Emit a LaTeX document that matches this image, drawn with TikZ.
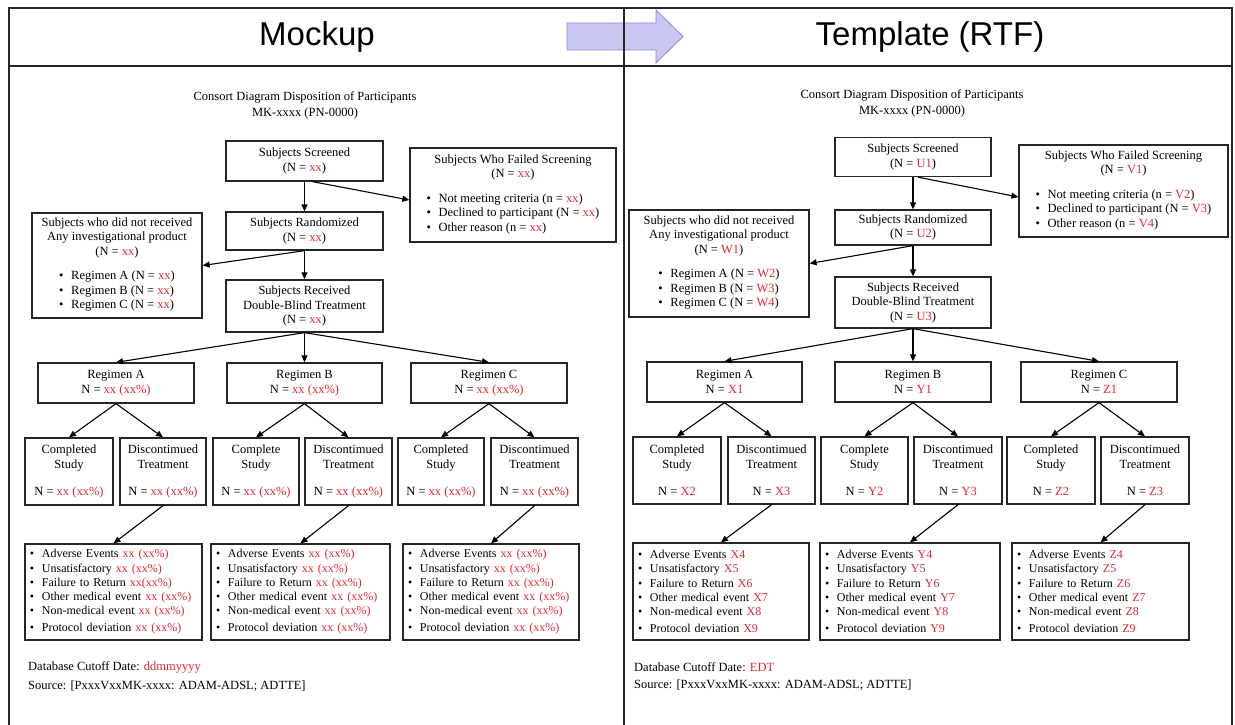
\documentclass[tikz,border=0pt]{standalone}
\usepackage{fontspec}
\setmainfont{Liberation Serif}
\newfontfamily\hdrfont{Liberation Sans}
\usetikzlibrary{arrows.meta}
\definecolor{vred}{HTML}{E3262E}
\definecolor{arrfill}{HTML}{C8C8F2}
\definecolor{arrline}{HTML}{8888D4}
\newcommand\rv[1]{\textcolor{vred}{#1}}
\newcommand\bl{\makebox[12pt][l]{\textbullet}}
\newcommand\dfont{\fontsize{12.5}{14.5}\selectfont}
\tikzset{
 cbox/.style={draw=black!85, line width=1.3pt, align=center, inner sep=2pt, font=\dfont},
 lbox/.style={draw=black!85, line width=1.3pt, align=left, inner xsep=5pt, inner ysep=2pt, font=\fontsize{12}{14.2}\selectfont},
 conn/.style={line width=1.1pt, -{Triangle[length=7pt,width=6pt]}},
 txt/.style={font=\dfont, inner sep=0pt},
 ttl/.style={align=center, inner sep=0pt, font=\fontsize{12.5}{16}\selectfont},
 hdr/.style={font=\hdrfont\fontsize{33}{38}\selectfont},
 frm/.style={line width=1.2pt, draw=black!85}
}
\begin{document}
\begin{tikzpicture}[x=1pt,y=-1pt]
\useasboundingbox (0,0) rectangle (1235,725);
% header arrow
\filldraw[fill=arrfill, draw=arrline, line width=0.8pt] (567,23) -- (656,23) -- (656,10) -- (683,36.5) -- (656,63) -- (656,50) -- (567,50) -- cycle;
\draw[frm] (9,8) rectangle (1232,727);
\draw[frm] (9,66) -- (1232,66);
\draw[frm] (624,8) -- (624,727);
\node[hdr] (hm) at (317,37) {Mockup};
\node[hdr] (ht) at (930,37) {Template (RTF)};

% ================= LEFT PANEL =================
\node[ttl] (tA) at (305,105) {Consort Diagram Disposition of Participants\\MK-xxxx (PN-0000)};
\node[cbox, minimum width=157, minimum height=40] (sA) at (304.5,161) {Subjects Screened\\(N = \rv{xx})};
\node[cbox, minimum width=206, minimum height=94] (fA) at (513,195) {Subjects Who Failed Screening\\(N = \rv{xx})\\[10pt]\begin{tabular}[t]{@{}l@{}}\bl Not meeting criteria (n = \rv{xx})\\\bl Declined to participant (N = \rv{xx})\\\bl Other reason (n = \rv{xx})\end{tabular}};
\node[cbox, minimum width=157, minimum height=38] (rA) at (304.5,231) {Subjects Randomized\\(N = \rv{xx})};
\node[cbox, minimum width=170, minimum height=105] (nA) at (117,265.5) {Subjects who did not received\\Any investigational product\\(N = \rv{xx})\\[10pt]\begin{tabular}[t]{@{}l@{}}\bl Regimen A (N = \rv{xx})\\\bl Regimen B (N = \rv{xx})\\\bl Regimen C (N = \rv{xx})\end{tabular}};
\node[cbox, minimum width=157, minimum height=52] (dA) at (304.5,306) {Subjects Received\\Double-Blind Treatment\\(N = \rv{xx})};

\node[cbox, minimum width=156, minimum height=40] (gAa) at (116,383) {Regimen A\\N = \rv{xx (xx\%)}};
\node[cbox, minimum width=155, minimum height=40] (gAb) at (304.5,383) {Regimen B\\N = \rv{xx (xx\%)}};
\node[cbox, minimum width=156, minimum height=40] (gAc) at (489,383) {Regimen C\\N = \rv{xx (xx\%)}};

\node[cbox, minimum width=88, minimum height=67] (cAa) at (69,471.5) {Completed\\Study\\[13pt]N = \rv{xx (xx\%)}};
\node[cbox, minimum width=86, minimum height=67] (xAa) at (163,471.5) {Discontimued\\Treatment\\[13pt]N = \rv{xx (xx\%)}};
\node[cbox, minimum width=86, minimum height=67] (cAb) at (256,471.5) {Complete\\Study\\[13pt]N = \rv{xx (xx\%)}};
\node[cbox, minimum width=87, minimum height=67] (xAb) at (348.5,471.5) {Discontimued\\Treatment\\[13pt]N = \rv{xx (xx\%)}};
\node[cbox, minimum width=86, minimum height=67] (cAc) at (441,471.5) {Completed\\Study\\[13pt]N = \rv{xx (xx\%)}};
\node[cbox, minimum width=87, minimum height=67] (xAc) at (534.5,471.5) {Discontimued\\Treatment\\[13pt]N = \rv{xx (xx\%)}};

\node[lbox, text width=167, minimum height=96] (bAa) at (113.5,592) {\bl Adverse Events \rv{xx (xx\%)}\\\bl Unsatisfactory \rv{xx (xx\%)}\\\bl Failure to Return \rv{xx(xx\%)}\\\bl Other medical event \rv{xx (xx\%)}\\\bl Non-medical event \rv{xx (xx\%)}\\[3pt]\bl Protocol deviation \rv{xx (xx\%)}};
\node[lbox, text width=169, minimum height=96] (bAb) at (300.5,592) {\bl Adverse Events \rv{xx (xx\%)}\\\bl Unsatisfactory \rv{xx (xx\%)}\\\bl Failure to Return \rv{xx (xx\%)}\\\bl Other medical event \rv{xx (xx\%)}\\\bl Non-medical event \rv{xx (xx\%)}\\[3pt]\bl Protocol deviation \rv{xx (xx\%)}};
\node[lbox, text width=166, minimum height=96] (bAc) at (491,592) {\bl Adverse Events \rv{xx (xx\%)}\\\bl Unsatisfactory \rv{xx (xx\%)}\\\bl Failure to Return \rv{xx (xx\%)}\\\bl Other medical event \rv{xx (xx\%)}\\\bl Non-medical event \rv{xx (xx\%)}\\[3pt]\bl Protocol deviation \rv{xx (xx\%)}};

\node[txt, anchor=west] (dbA) at (28,667) {Database Cutoff Date: \rv{ddmmyyyy}};
\node[txt, anchor=west] (srcA) at (28,686) {Source: [PxxxVxxMK-xxxx: ADAM-ADSL; ADTTE]};

\draw[conn] (sA.south) -- (rA.north);
\draw[conn] ([xshift=8pt]sA.south) -- ([yshift=-5pt]fA.west);
\draw[conn] (rA.south) -- (dA.north);
\draw[conn] (rA.south) -- (nA.east);
\draw[conn] (dA.south) -- (gAa.north);
\draw[conn] (dA.south) -- (gAb.north);
\draw[conn] (dA.south) -- (gAc.north);
\draw[conn] (gAa.south) -- (cAa.north);
\draw[conn] (gAa.south) -- (xAa.north);
\draw[conn] (gAb.south) -- (cAb.north);
\draw[conn] (gAb.south) -- (xAb.north);
\draw[conn] (gAc.south) -- (cAc.north);
\draw[conn] (gAc.south) -- (xAc.north);
\draw[conn] (xAa.south) -- (bAa.north);
\draw[conn] (xAb.south) -- (bAb.north);
\draw[conn] (xAc.south) -- (bAc.north);

% ================= RIGHT PANEL =================
\node[ttl] (tR) at (912,103.5) {Consort Diagram Disposition of Participants\\MK-xxxx (PN-0000)};
\node[cbox, minimum width=156, minimum height=39] (sR) at (913,157) {Subjects Screened\\(N = \rv{U1})};
\node[cbox, minimum width=209, minimum height=92] (fR) at (1123.5,191) {Subjects Who Failed Screening\\(N = \rv{V1})\\[10pt]\begin{tabular}[t]{@{}l@{}}\bl Not meeting criteria (n = \rv{V2})\\\bl Declined to participant (N = \rv{V3})\\\bl Other reason (n = \rv{V4})\end{tabular}};
\node[cbox, minimum width=156, minimum height=35] (rR) at (913,227.5) {Subjects Randomized\\(N = \rv{U2})};
\node[cbox, minimum width=180, minimum height=107] (nR) at (719,263.5) {Subjects who did not received\\Any investigational product\\(N = \rv{W1})\\[10pt]\begin{tabular}[t]{@{}l@{}}\bl Regimen A (N = \rv{W2})\\\bl Regimen B (N = \rv{W3})\\\bl Regimen C (N = \rv{W4})\end{tabular}};
\node[cbox, minimum width=156, minimum height=51] (dR) at (913,302.5) {Subjects Received\\Double-Blind Treatment\\(N = \rv{U3})};

\node[cbox, minimum width=155, minimum height=40] (gRa) at (724.5,382) {Regimen A\\N = \rv{X1}};
\node[cbox, minimum width=156, minimum height=40] (gRb) at (913,382) {Regimen B\\N = \rv{Y1}};
\node[cbox, minimum width=156, minimum height=40] (gRc) at (1099,382) {Regimen C\\N = \rv{Z1}};

\node[cbox, minimum width=88, minimum height=67] (cRa) at (677,470.5) {Completed\\Study\\[13pt]N = \rv{X2}};
\node[cbox, minimum width=87, minimum height=67] (xRa) at (771.5,470.5) {Discontimued\\Treatment\\[13pt]N = \rv{X3}};
\node[cbox, minimum width=87, minimum height=67] (cRb) at (864.5,470.5) {Complete\\Study\\[13pt]N = \rv{Y2}};
\node[cbox, minimum width=88, minimum height=67] (xRb) at (958,470.5) {Discontimued\\Treatment\\[13pt]N = \rv{Y3}};
\node[cbox, minimum width=88, minimum height=67] (cRc) at (1051,470.5) {Completed\\Study\\[13pt]N = \rv{Z2}};
\node[cbox, minimum width=88, minimum height=67] (xRc) at (1145,470.5) {Discontimued\\Treatment\\[13pt]N = \rv{Z3}};

\node[lbox, text width=166, minimum height=97] (bRa) at (721,591.5) {\bl Adverse Events \rv{X4}\\\bl Unsatisfactory \rv{X5}\\\bl Failure to Return \rv{X6}\\\bl Other medical event \rv{X7}\\\bl Non-medical event \rv{X8}\\[3pt]\bl Protocol deviation \rv{X9}};
\node[lbox, text width=170, minimum height=97] (bRb) at (910,591.5) {\bl Adverse Events \rv{Y4}\\\bl Unsatisfactory \rv{Y5}\\\bl Failure to Return \rv{Y6}\\\bl Other medical event \rv{Y7}\\\bl Non-medical event \rv{Y8}\\[3pt]\bl Protocol deviation \rv{Y9}};
\node[lbox, text width=167, minimum height=97] (bRc) at (1100.5,591.5) {\bl Adverse Events \rv{Z4}\\\bl Unsatisfactory \rv{Z5}\\\bl Failure to Return \rv{Z6}\\\bl Other medical event \rv{Z7}\\\bl Non-medical event \rv{Z8}\\[3pt]\bl Protocol deviation \rv{Z9}};

\node[txt, anchor=west] (dbR) at (634,667) {Database Cutoff Date: \rv{EDT}};
\node[txt, anchor=west] (srcR) at (634,685) {Source: [PxxxVxxMK-xxxx: ADAM-ADSL; ADTTE]};

\draw[conn] (sR.south) -- (rR.north);
\draw[conn] ([xshift=5pt]sR.south) -- ([yshift=-6pt]fR.west);
\draw[conn] (rR.south) -- (dR.north);
\draw[conn] (rR.south) -- (nR.east);
\draw[conn] (dR.south) -- (gRa.north);
\draw[conn] (dR.south) -- (gRb.north);
\draw[conn] (dR.south) -- (gRc.north);
\draw[conn] (gRa.south) -- (cRa.north);
\draw[conn] (gRa.south) -- (xRa.north);
\draw[conn] (gRb.south) -- (cRb.north);
\draw[conn] (gRb.south) -- (xRb.north);
\draw[conn] (gRc.south) -- (cRc.north);
\draw[conn] (gRc.south) -- (xRc.north);
\draw[conn] (xRa.south) -- (bRa.north);
\draw[conn] (xRb.south) -- (bRb.north);
\draw[conn] (xRc.south) -- (bRc.north);
\end{tikzpicture}
\end{document}
